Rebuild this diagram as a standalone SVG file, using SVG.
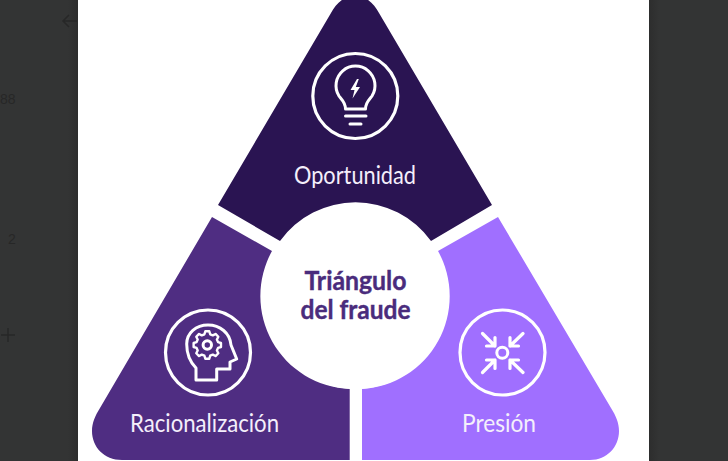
<svg xmlns="http://www.w3.org/2000/svg" width="728" height="461" viewBox="0 0 728 461">
<defs>
<linearGradient id="shL" x1="0" x2="1" y1="0" y2="0"><stop offset="0" stop-color="#2a2a2a" stop-opacity="0"/><stop offset="1" stop-color="#2a2a2a" stop-opacity="0.7"/></linearGradient>
<linearGradient id="shR" x1="1" x2="0" y1="0" y2="0"><stop offset="0" stop-color="#2a2a2a" stop-opacity="0"/><stop offset="1" stop-color="#2a2a2a" stop-opacity="0.7"/></linearGradient>
</defs>
<style>
.ic{fill:none;stroke:#fff;stroke-width:3;stroke-linecap:round;stroke-linejoin:round}
.ring{fill:none;stroke:#fff;stroke-width:3.2}
.lb{font-family:"Lato","Noto Sans",sans-serif;font-size:25px;fill:#f4effb;text-anchor:middle}
.ti{font-family:"Lato","Noto Sans",sans-serif;font-size:26px;font-weight:700;fill:#4a2c7c;stroke:#4a2c7c;stroke-width:.4;text-anchor:middle}
.bg{font-family:"Liberation Sans",sans-serif;font-size:14px;fill:#272727}
</style>
<rect width="728" height="461" fill="#333434"/>
<rect x="68" width="10" height="461" fill="url(#shL)"/>
<rect x="649" width="10" height="461" fill="url(#shR)"/>
<rect x="78" width="571" height="461" fill="#fff"/>
<g id="backdrop">
<path d="M77 21H63M69 15l-6 6 6 6" fill="none" stroke="#272727" stroke-width="1.5"/>
<text class="bg" x="0" y="104">88</text>
<text class="bg" x="8" y="244">2</text>
<path d="M1 335H15M8 328V342" fill="none" stroke="#272727" stroke-width="1.5"/>
</g>
<g id="oportunidad">
<path d="M218 205L331 13C336 4 343 -4 355 -4C367 -4 374 4 379 13L492 205L431 241A93 93 0 0 0 280 241Z" fill="#2a1452"/>
<circle class="ring" cx="355.300" cy="96" r="42.500"/>
<path class="ic" d="M345.500 109C345.500 102 341 99 339 96A19.500 19.500 0 1 1 372 96C370 99 365.500 102 365.500 109Z"/>
<path class="ic" d="M345.500 116H366M350 124H361"/>
<path d="M357 79L350.500 90H354.500L352.500 98.500L360 87H355.800L358.800 79Z" fill="#fff"/>
<text class="lb" x="355" y="184" textLength="122" lengthAdjust="spacingAndGlyphs">Oportunidad</text>
</g>
<g id="racionalizacion">
<path d="M212 217L272 251A93 93 0 0 0 349.700 389V460H122C104 460 92 447 92 431C92 423 95 416 100 408Z" fill="#4f2d82"/>
<circle class="ring" cx="208" cy="352.500" r="42.500"/>
<path class="ic" d="M196 380V368C190 362 186.700 353 186.700 344C186.700 333 196 325 208 325C220 325 230 333 231 345L236.700 359L230 362V369H216.700V380Z"/>
<path class="ic" stroke-width="2.600" d="M204.800 332.800H209.800L210.900 336.500L214.200 337.900L217.600 336.100L221.100 339.600L219.300 343L220.700 346.300L224.400 347.400V352.400L220.700 353.500L219.300 356.800L221.100 360.200L217.600 363.700L214.200 361.900L210.900 363.300L209.800 367H204.800L203.700 363.300L200.400 361.900L197 363.700L193.500 360.200L195.300 356.800L193.900 353.500L190.200 352.400V347.400L193.900 346.300L195.300 343L193.500 339.600L197 336.100L200.400 337.900L203.700 336.500Z" transform="translate(207.300 345) scale(.8) translate(-207.300 -349.900)"/>
<circle class="ic" cx="207.300" cy="345" r="4.200"/>
<text class="lb" x="204.500" y="432" textLength="149" lengthAdjust="spacingAndGlyphs">Racionalización</text>
</g>
<g id="presion">
<path d="M498 217L438 251A93 93 0 0 1 362 389V460H590C607 460 619 447 619 431C619 423 616 416 611 408Z" fill="#a06fff"/>
<circle class="ring" cx="502.500" cy="352.500" r="42.500"/>
<circle class="ic" cx="502.300" cy="352.700" r="5.500"/>
<g class="ic" style="stroke-width:3.200">
<path d="M482.500 333.500L495 346M495 337.500V346H486.500"/>
<path d="M523 333.500L510 346M510 337.500V346H518.500"/>
<path d="M482.500 372.500L495 360M486.500 360H495V368.500"/>
<path d="M523 372.500L510 360M518.500 360H510V368.500"/>
</g>
<text class="lb" x="499" y="432" textLength="74" lengthAdjust="spacingAndGlyphs">Presión</text>
</g>
<g id="centro">
<circle cx="355.500" cy="296.500" r="92.500" fill="#fff"/>
<text class="ti" x="355.500" y="290" textLength="102" lengthAdjust="spacingAndGlyphs">Triángulo</text>
<text class="ti" x="355.500" y="319" textLength="110" lengthAdjust="spacingAndGlyphs">del fraude</text>
</g>
</svg>
